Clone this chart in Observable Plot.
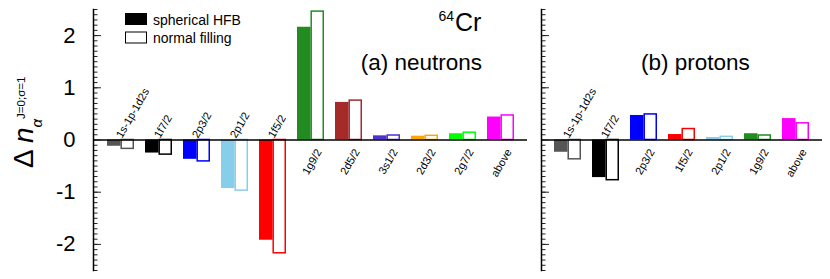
<!DOCTYPE html>
<html>
<head>
<meta charset="utf-8">
<script src="https://cdn.jsdelivr.net/npm/d3@7"></script>
<script src="https://cdn.jsdelivr.net/npm/@observablehq/plot@0.6"></script>
<style>
  html, body { margin: 0; padding: 0; background: #fff; }
  #wrap { position: relative; width: 830px; height: 279px; font-family: "Liberation Sans", Arial, sans-serif; }
  #wrap > svg.panel { position: absolute; top: 0; }
  #overlay { position: absolute; left: 0; top: 0; pointer-events: none; }
</style>
</head>
<body>
<div id="wrap"></div>
<script>
// ---------- data ----------
const neutronOrbitals = ["1s-1p-1d2s", "1f7/2", "2p3/2", "2p1/2", "1f5/2", "1g9/2", "2d5/2", "3s1/2", "2d3/2", "2g7/2", "above"];
const neutronHFB    = [-0.12, -0.25, -0.37, -0.93, -1.92, 2.16, 0.72, 0.08, 0.073, 0.12, 0.44];
const neutronNormal = [-0.17, -0.28, -0.41, -0.97, -2.17, 2.46, 0.755, 0.086, 0.08, 0.14, 0.47];
const neutronColors = ["#555555", "#000000", "#0000ff", "#87ceeb", "#ff0000", "#228b22", "#a52a2a", "#5030d0", "#ffa500", "#00ff00", "#ff00ff"];

const protonOrbitals = ["1s-1p-1d2s", "1f7/2", "2p3/2", "1f5/2", "2p1/2", "1g9/2", "above"];
const protonHFB    = [-0.235, -0.72, 0.47, 0.105, 0.048, 0.12, 0.41];
const protonNormal = [-0.37, -0.77, 0.49, 0.21, 0.06, 0.086, 0.32];
const protonColors = ["#555555", "#000000", "#0000ff", "#ff0000", "#87ceeb", "#228b22", "#ff00ff"];

const yTicks = [-2, -1, 0, 1, 2];
const yTickLabels = ["-2", "-1", "0", "1", "2"];
const yDomain = [-2.5, 2.5];
const minorTicks = d3.range(-25, 26).map(i => i / 10);

const legendLabels = ["spherical HFB", "normal filling"];
const panelTitles = ["(a) neutrons", "(b) protons"];

function panel({orbitals, hfb, normal, colors, width, marginLeft, marginRight, showTickLabels}) {
  const rows = orbitals.map((o, i) => ({orbital: o, hfb: hfb[i], normal: normal[i], color: colors[i]}));
  const pi = 0.3, po = 0.3;
  const frameW = width - marginLeft - marginRight;
  const step = frameW / (orbitals.length - pi + 2 * po);
  const half = step * (1 - pi) / 2;
  const marks = [
    Plot.barY(rows, {x: "orbital", y: "hfb", fill: "color", insetRight: half}),
    Plot.barY(rows, {x: "orbital", y: "normal", fill: "white", stroke: "color", strokeWidth: 1.5, insetLeft: half + 0.75, insetRight: 0.75}),
    Plot.ruleY([0], {stroke: "black", strokeWidth: 1.5}),
    Plot.ruleY(minorTicks, {insetRight: frameW - 4.5, stroke: "#222", strokeWidth: 1}),
    Plot.ruleY(yTicks, {insetRight: frameW - 8, stroke: "#222", strokeWidth: 1}),
    Plot.frame({anchor: "left", stroke: "black", strokeWidth: 1.5}),
    Plot.text(rows.filter(d => d.hfb < 0), {
      x: "orbital", y: () => 0, text: "orbital", rotate: -60, textAnchor: "start",
      dx: -2, dy: -3, fontSize: 11, fill: "black"
    }),
    Plot.text(rows.filter(d => d.hfb >= 0), {
      x: "orbital", y: () => 0, text: "orbital", rotate: -60, textAnchor: "end",
      dx: 8, dy: 10, fontSize: 11, fill: "black"
    })
  ];
  if (showTickLabels) {
    marks.push(Plot.axisY({
      ticks: yTicks, tickFormat: d => yTickLabels[yTicks.indexOf(d)],
      tickSize: 0, tickPadding: 18, fontSize: 22, label: null
    }));
  }
  const svg = Plot.plot({
    width, height: 279, marginLeft, marginRight, marginTop: 9, marginBottom: 9,
    x: {type: "band", domain: orbitals, paddingInner: pi, paddingOuter: po, axis: null},
    y: {domain: yDomain, axis: null},
    color: {type: "identity"},
    style: {background: "white", color: "black", fontFamily: "'Liberation Sans', Arial, sans-serif"},
    marks
  });
  svg.classList.add("panel");
  return svg;
}

const wrap = document.getElementById("wrap");

const left = panel({
  orbitals: neutronOrbitals, hfb: neutronHFB, normal: neutronNormal, colors: neutronColors,
  width: 534, marginLeft: 93, marginRight: 7, showTickLabels: true
});
left.style.left = "0px";
wrap.appendChild(left);

const right = panel({
  orbitals: protonOrbitals, hfb: protonHFB, normal: protonNormal, colors: protonColors,
  width: 296, marginLeft: 7, marginRight: 8, showTickLabels: false
});
right.style.left = "534px";
wrap.appendChild(right);

// ---------- overlay: legend, titles, y label ----------
const ov = d3.select(wrap).append("svg")
  .attr("id", "overlay").attr("width", 830).attr("height", 279)
  .attr("font-family", "'Liberation Sans', Arial, sans-serif");

ov.append("rect").attr("x", 125).attr("y", 13).attr("width", 22).attr("height", 12).attr("fill", "black");
ov.append("rect").attr("x", 125.5).attr("y", 32).attr("width", 21).attr("height", 11).attr("fill", "white").attr("stroke", "black").attr("stroke-width", 1);
ov.append("text").attr("x", 153).attr("y", 25).attr("font-size", 14).text(legendLabels[0]);
ov.append("text").attr("x", 153).attr("y", 43).attr("font-size", 14).text(legendLabels[1]);

ov.append("text").attr("x", 454).attr("y", 21).attr("font-size", 14).attr("text-anchor", "end").text("64");
ov.append("text").attr("x", 455).attr("y", 31).attr("font-size", 25).text("Cr");

ov.append("text").attr("x", 482).attr("y", 70).attr("font-size", 22.5).attr("text-anchor", "end").text(panelTitles[0]);
ov.append("text").attr("x", 641).attr("y", 70).attr("font-size", 22.5).text(panelTitles[1]);

const yl = ov.append("text").attr("transform", "translate(33,168) rotate(-90)").attr("font-size", 28);
yl.append("tspan").text("Δ ");
yl.append("tspan").attr("font-style", "italic").text("n");
yl.append("tspan").attr("font-size", 15).attr("font-style", "italic").attr("dy", 9).text("α");
yl.append("tspan").attr("font-size", 11.5).attr("dy", -17).text("J=0;σ=1");
</script>
</body>
</html>
